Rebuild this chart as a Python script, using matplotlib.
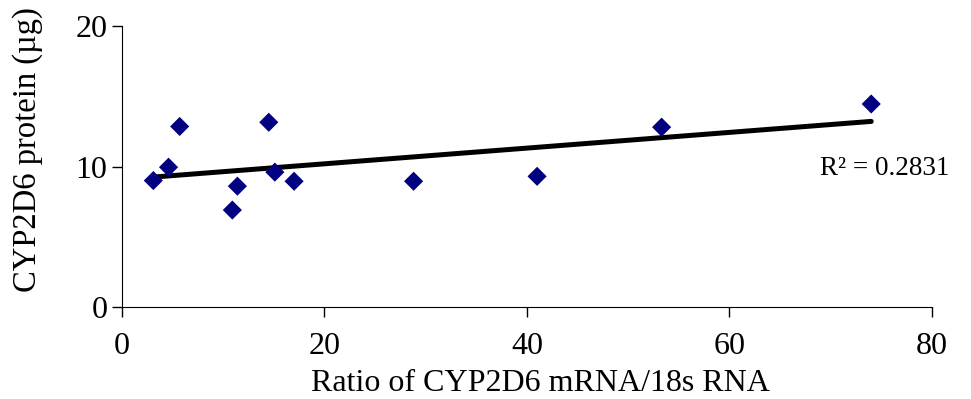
import numpy as np
import matplotlib.pyplot as plt

plt.rcParams['font.family'] = ['Liberation Serif', 'DejaVu Serif']

# mRNA ratio vs measured protein
mrna_ratio = [3.1, 4.6, 5.7, 10.9, 11.4, 14.5, 15.1, 17.0, 28.8, 41.0, 53.3, 74.0]
protein_ug = [9.0, 9.95, 12.85, 6.9, 8.6, 13.15, 9.6, 8.95, 8.95, 9.3, 12.8, 14.45]
x_ticks = [0, 20, 40, 60, 80]
y_ticks = [0, 10, 20]
r2_label = 'R² = 0.2831'

fig = plt.figure(figsize=(9.71, 3.99), dpi=100)
ax = fig.add_axes([0.1256, 0.2306, 0.8342, 0.7042])

ax.scatter(mrna_ratio, protein_ug, marker='D', s=95, color='#000080', zorder=3,
           edgecolors='none')

# linear trendline over the data range
slope, icpt = np.polyfit(mrna_ratio, protein_ug, 1)
xs = np.array([min(mrna_ratio), max(mrna_ratio)])
ax.plot(xs, slope * xs + icpt, color='black', lw=3.6, solid_capstyle='round', zorder=2)

ax.text(68.9, 9.85, r2_label, fontsize=19.5, ha='left', va='center')

ax.set_xlim(0, 80)
ax.set_ylim(0, 20)
ax.set_xticks(x_ticks)
ax.set_yticks(y_ticks)
ax.tick_params(labelsize=23, length=7, width=1, direction='out')
ax.tick_params(axis='x', pad=11)
ax.spines['top'].set_visible(False)
ax.spines['right'].set_visible(False)
ax.set_xlabel('Ratio of CYP2D6 mRNA/18s RNA', fontsize=23, labelpad=6)
ax.xaxis.label.set_x(0.517)
ax.set_ylabel('CYP2D6 protein (µg)', fontsize=23.5)
ax.yaxis.set_label_coords(-0.097, 0.56)

fig.savefig('out.png', dpi=100)
